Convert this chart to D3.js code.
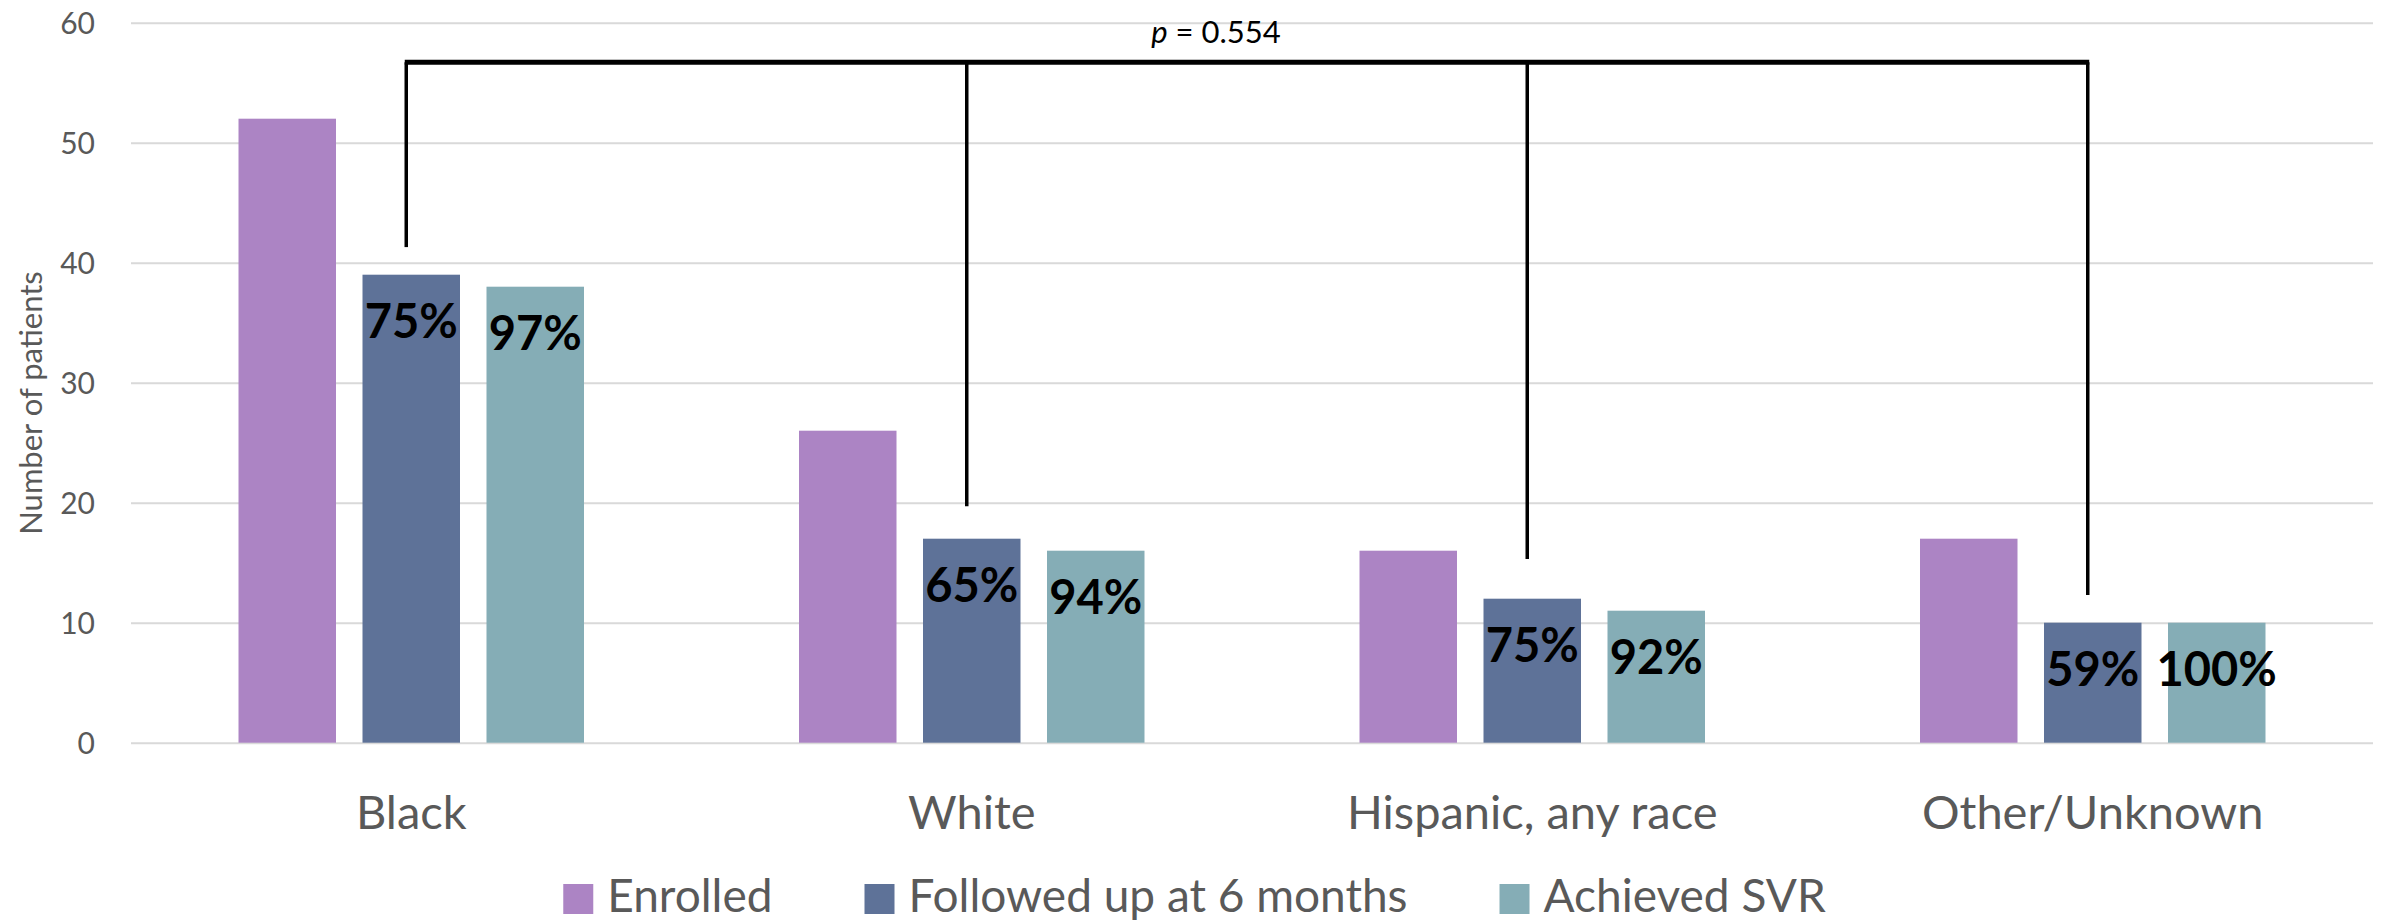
<!DOCTYPE html>
<html>
<head>
<meta charset="utf-8">
<script src="https://cdn.jsdelivr.net/npm/d3@7"></script>
<style>
  html, body { margin: 0; padding: 0; background: #ffffff; }
  svg { display: block; font-family: Lato, "Open Sans", sans-serif; }
</style>
</head>
<body>
<svg id="chart" width="2389" height="923"></svg>
<script>
// Patients by race/ethnicity at each stage of care
const categories = ["Black", "White", "Hispanic, any race", "Other/Unknown"];
const seriesNames = ["Enrolled", "Followed up at 6 months", "Achieved SVR"];
const enrolled = [52, 26, 16, 17];
const followedUp = [39, 17, 12, 10];
const achievedSVR = [38, 16, 11, 10];
const seriesColors = ["#ac84c4", "#5e7298", "#85adb6"];
const yTicks = [0, 10, 20, 30, 40, 50, 60];

// Significance bracket across the follow-up bars
const pLabel = "0.554";
const bracketTop = 56.7;
const bracketFeet = [41.3, 19.7, 15.3, 12.3];

const W = 2389, H = 923;
const svg = d3.select("#chart");

const x = d3.scaleBand().domain(categories).range([131, 2373]).paddingInner(0).paddingOuter(0);
const xs = d3.scaleBand().domain(seriesNames).range([0, x.bandwidth()])
  .paddingInner(0.2137).paddingOuter(0.867);
const y = d3.scaleLinear().domain([0, 60]).range([742.7, 22.7]);

const textGrey = "#595959";

// Gridlines
const yAxis = d3.axisLeft(y).tickValues(yTicks).tickSize(-(2373 - 131)).tickPadding(36);
const gy = svg.append("g").attr("transform", "translate(131,0)").call(yAxis);
gy.select(".domain").remove();
gy.selectAll(".tick line").attr("stroke", "#d9d9d9").attr("stroke-width", 2);
gy.selectAll(".tick text")
  .attr("fill", textGrey)
  .attr("font-size", 30)
  .attr("font-family", "Lato, sans-serif")
  .attr("dy", "0.36em");

// Bars
const rows = categories.map((c, i) => ({
  category: c,
  values: [enrolled[i], followedUp[i], achievedSVR[i]]
}));

const groups = svg.append("g").selectAll("g.group")
  .data(rows).join("g")
  .attr("class", "group")
  .attr("transform", d => `translate(${x(d.category)},0)`);

groups.selectAll("rect")
  .data(d => d.values.map((v, j) => ({ series: seriesNames[j], value: v, j })))
  .join("rect")
  .attr("x", d => xs(d.series))
  .attr("width", xs.bandwidth())
  .attr("y", d => y(d.value))
  .attr("height", d => y(0) - y(d.value))
  .attr("fill", d => seriesColors[d.j]);

// Percent labels: follow-up as a share of enrolled, SVR as a share of followed up
groups.each(function(d) {
  const g = d3.select(this);
  const pct = [
    { series: seriesNames[1], value: d.values[1], p: d.values[1] / d.values[0] },
    { series: seriesNames[2], value: d.values[2], p: d.values[2] / d.values[1] }
  ];
  g.selectAll("text.pct")
    .data(pct).join("text")
    .attr("class", "pct")
    .attr("x", e => xs(e.series) + xs.bandwidth() / 2)
    .attr("y", e => y(e.value) + 63)
    .attr("text-anchor", "middle")
    .attr("font-size", 47)
    .attr("font-weight", 700)
    .attr("fill", "#000")
    .text(e => Math.round(e.p * 100) + "%");
});

// Category labels
svg.append("g").selectAll("text")
  .data(categories).join("text")
  .attr("x", d => x(d) + x.bandwidth() / 2)
  .attr("y", 829)
  .attr("text-anchor", "middle")
  .attr("font-size", 47)
  .attr("fill", textGrey)
  .text(d => d);

// Y axis title
svg.append("text")
  .attr("transform", "translate(42,403) rotate(-90)")
  .attr("text-anchor", "middle")
  .attr("font-size", 31)
  .attr("fill", textGrey)
  .text("Number of patients");

// Bracket
const footX = categories.map(c => x(c) + xs(seriesNames[1]) + xs.bandwidth() / 2 - 5);
const bracket = svg.append("g").attr("stroke", "#000").attr("fill", "none");
bracket.append("line")
  .attr("x1", footX[0] - 1.5).attr("x2", footX[footX.length - 1] + 1.5)
  .attr("y1", y(bracketTop)).attr("y2", y(bracketTop))
  .attr("stroke-width", 5);
bracket.selectAll("line.foot")
  .data(bracketFeet).join("line")
  .attr("class", "foot")
  .attr("x1", (d, i) => footX[i]).attr("x2", (d, i) => footX[i])
  .attr("y1", y(bracketTop)).attr("y2", d => y(d))
  .attr("stroke-width", 3.5);

const pText = svg.append("text")
  .attr("x", 1216).attr("y", 43)
  .attr("text-anchor", "middle")
  .attr("font-size", 31)
  .attr("fill", "#000");
pText.append("tspan").attr("font-style", "italic").text("p");
pText.append("tspan").text(" = " + pLabel);

// Legend, centred across the figure
const legend = svg.append("g");
const items = legend.selectAll("g.item")
  .data(seriesNames).join("g").attr("class", "item");
items.append("rect")
  .attr("width", 30).attr("height", 30)
  .attr("y", 884)
  .attr("fill", (d, i) => seriesColors[i]);
items.append("text")
  .attr("x", 44).attr("y", 912)
  .attr("font-size", 46)
  .attr("fill", textGrey)
  .text(d => d);
const widths = [];
items.each(function() { widths.push(44 + d3.select(this).select("text").node().getComputedTextLength()); });
const gap = 92;
const total = d3.sum(widths) + gap * (widths.length - 1);
let cx = W / 2 - total / 2;
items.attr("transform", (d, i) => {
  const t = `translate(${cx},0)`;
  cx += widths[i] + gap;
  return t;
});
</script>
</body>
</html>
